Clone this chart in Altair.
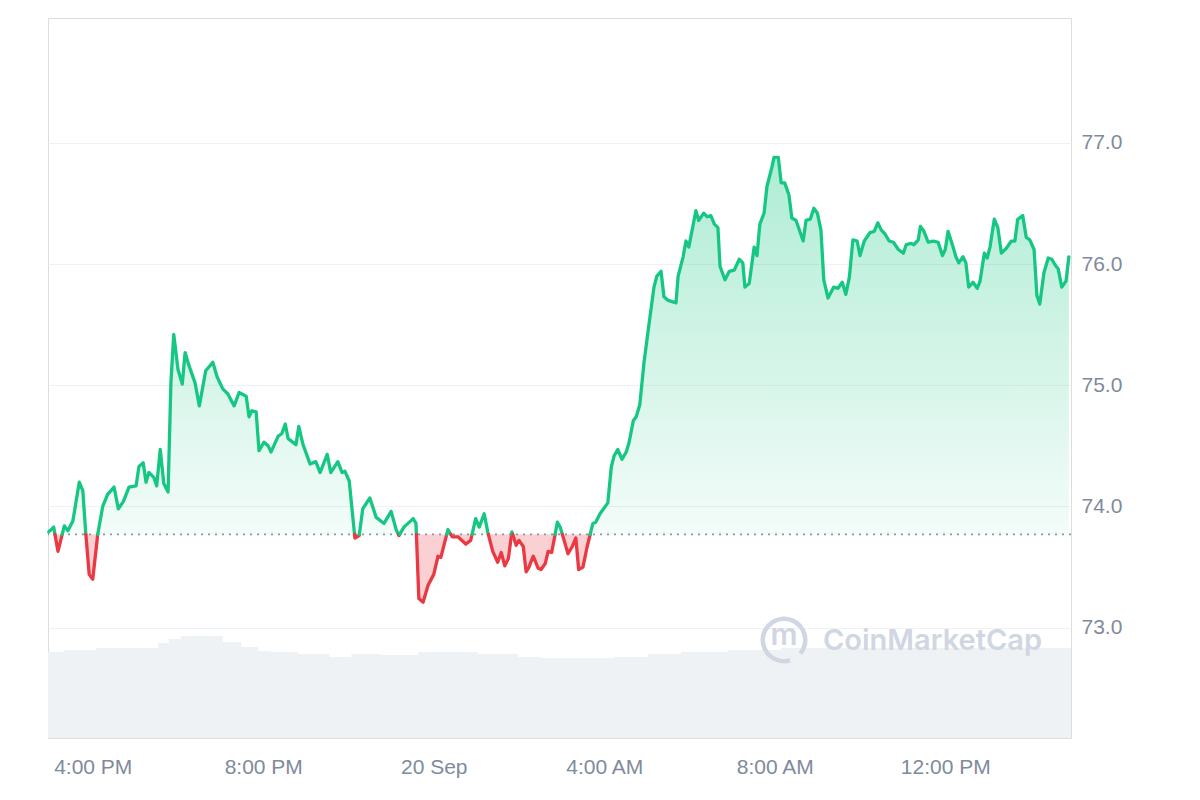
import altair as alt
import pandas as pd

# ---------------- data ----------------
START = pd.Timestamp("2024-09-19 14:57")
BASE_PRICE = 73.77  # previous close (dotted reference line)

price_minutes = [1, 8, 14, 23, 28, 35, 44, 49, 53, 58, 63, 70, 77, 84, 93, 99, 106, 114, 124, 128,
                 134, 138, 142, 149, 153, 158, 163, 169, 173, 177, 183, 189, 193, 198, 207, 213, 222, 232, 238, 246,
                 253, 262, 269, 279, 283, 287, 293, 297, 304, 310, 314, 324, 329, 334, 338, 349, 353, 359, 369, 377,
                 383, 393, 398, 408, 414, 418, 424, 432, 438, 443, 453, 462, 473, 483, 490, 494, 501, 514, 518, 522,
                 528, 535, 543, 549, 553, 563, 569, 577, 588, 595, 602, 607, 614, 619, 626, 633, 638, 643, 648, 653,
                 659, 663, 669, 673, 677, 683, 690, 694, 700, 704, 709, 717, 721, 732, 738, 743, 747, 753, 759, 767,
                 771, 777, 788, 793, 797, 802, 808, 814, 818, 824, 828, 833, 839, 845, 853, 857, 863, 867, 873, 884,
                 887, 894, 898, 902, 912, 916, 923, 928, 933, 938, 943, 946, 953, 959, 966, 973, 978, 981, 987, 994,
                 998, 1002, 1008, 1012, 1019, 1022, 1028, 1032, 1037, 1043, 1047, 1053, 1063, 1067, 1073, 1078, 1083,
                 1088, 1092, 1098, 1106, 1112, 1118, 1123, 1128, 1133, 1139, 1143, 1149, 1157, 1163, 1168, 1173, 1178,
                 1184, 1190, 1197, 1204, 1208, 1215, 1219, 1225, 1228, 1233, 1239, 1246, 1253, 1259, 1263, 1267, 1274,
                 1278, 1282, 1288, 1292, 1296, 1302, 1308, 1312, 1318, 1322, 1326, 1332, 1337, 1342, 1349, 1356, 1361,
                 1365, 1372, 1377, 1382, 1388, 1392, 1396, 1402, 1408, 1413, 1418, 1422, 1427, 1433, 1437]

price_values = [73.79, 73.83, 73.63, 73.84, 73.80, 73.88, 74.20, 74.13, 73.79, 73.44,
                73.40, 73.77, 74.00, 74.10, 74.16, 73.98, 74.04, 74.16, 74.17, 74.33,
                74.36, 74.20, 74.28, 74.24, 74.17, 74.47, 74.19, 74.12, 75.02, 75.42,
                75.13, 75.01, 75.27, 75.17, 75.02, 74.83, 75.12, 75.19, 75.07, 74.97,
                74.93, 74.83, 74.94, 74.91, 74.74, 74.79, 74.78, 74.46, 74.53, 74.50,
                74.45, 74.58, 74.60, 74.68, 74.56, 74.51, 74.66, 74.51, 74.35, 74.37,
                74.28, 74.43, 74.28, 74.37, 74.28, 74.29, 74.21, 73.74, 73.76, 73.98,
                74.07, 73.91, 73.86, 73.96, 73.81, 73.76, 73.83, 73.90, 73.86, 73.24,
                73.21, 73.35, 73.44, 73.59, 73.58, 73.81, 73.75, 73.75, 73.69, 73.72,
                73.90, 73.83, 73.94, 73.79, 73.63, 73.54, 73.62, 73.51, 73.57, 73.79,
                73.68, 73.72, 73.67, 73.46, 73.50, 73.59, 73.49, 73.48, 73.53, 73.63,
                73.62, 73.87, 73.83, 73.61, 73.67, 73.74, 73.48, 73.50, 73.67, 73.86,
                73.87, 73.94, 74.03, 74.33, 74.42, 74.47, 74.39, 74.45, 74.53, 74.71,
                74.74, 74.84, 75.19, 75.46, 75.81, 75.90, 75.94, 75.73, 75.70, 75.68,
                75.90, 76.06, 76.19, 76.14, 76.44, 76.36, 76.42, 76.39, 76.40, 76.33,
                76.30, 75.98, 75.87, 75.94, 75.95, 76.04, 76.01, 75.81, 75.84, 76.14,
                76.07, 76.33, 76.42, 76.64, 76.80, 76.88, 76.88, 76.67, 76.67, 76.57,
                76.38, 76.36, 76.19, 76.36, 76.37, 76.46, 76.42, 76.28, 75.87, 75.72,
                75.81, 75.80, 75.85, 75.75, 75.89, 76.20, 76.19, 76.07, 76.19, 76.26,
                76.27, 76.34, 76.28, 76.25, 76.19, 76.18, 76.12, 76.09, 76.16, 76.17,
                76.16, 76.20, 76.31, 76.27, 76.18, 76.19, 76.18, 76.07, 76.12, 76.27,
                76.14, 76.06, 76.01, 76.06, 76.01, 75.81, 75.85, 75.80, 75.86, 76.09,
                76.05, 76.14, 76.37, 76.30, 76.09, 76.13, 76.19, 76.19, 76.37, 76.40,
                76.22, 76.20, 76.12, 75.74, 75.67, 75.93, 76.05, 76.04, 75.99, 75.96,
                75.81, 75.86, 76.06]

volume_minutes = [0, 23, 68, 155, 170, 187, 246, 272, 296, 314, 352, 396, 427, 469, 521,
                  605, 662, 694, 797, 845, 891, 957, 1032, 1440]
volume_values = [86, 88, 90, 95, 99, 102, 96, 91, 87, 86, 84, 81, 84, 83, 86,
                 84, 81, 80, 81, 84, 86, 88, 90, 90]

y_ticks = [73, 74, 75, 76, 77]
x_ticks = [(19, 16), (19, 20), (20, 0), (20, 4), (20, 8), (20, 12)]

assert len(price_minutes) == len(price_values)
assert len(volume_minutes) == len(volume_values)

GREEN = "#16c784"
RED = "#ea3943"
LABEL = "#808a9d"
GRID = "#eff1f4"
WATERMARK = "#d0d6e2"
FONT = "Liberation Sans"

# ---------------- tables ----------------
def ts(m):
    return START + pd.Timedelta(minutes=float(m))

pts = list(zip(price_minutes, price_values))

def side(p):
    return "up" if p >= BASE_PRICE else "down"

seg_rows, all_rows = [], []
seg = 0
cur = side(pts[0][1])
seg_rows.append((pts[0][0], pts[0][1], seg, cur))
all_rows.append(pts[0])
for (t0, p0), (t1, p1) in zip(pts[:-1], pts[1:]):
    s1 = side(p1)
    if s1 != cur:
        tc = t0 + (BASE_PRICE - p0) / (p1 - p0) * (t1 - t0)
        seg_rows.append((tc, BASE_PRICE, seg, cur))
        all_rows.append((tc, BASE_PRICE))
        seg += 1
        cur = s1
        seg_rows.append((tc, BASE_PRICE, seg, cur))
    seg_rows.append((t1, p1, seg, cur))
    all_rows.append((t1, p1))

line_df = pd.DataFrame(seg_rows, columns=["m", "price", "seg", "dir"])
line_df["time"] = line_df["m"].map(ts)

area_df = pd.DataFrame(all_rows, columns=["m", "price"])
area_df["time"] = area_df["m"].map(ts)
area_df["base"] = BASE_PRICE
area_df["hi"] = area_df["price"].clip(lower=BASE_PRICE)
area_df["lo"] = area_df["price"].clip(upper=BASE_PRICE)

vol_df = pd.DataFrame({"m": volume_minutes, "vol": volume_values})
vol_df["time"] = vol_df["m"].map(ts)

x_scale = alt.Scale(domain=[alt.DateTime(year=2024, month=9, date=19, hours=14, minutes=57),
                            alt.DateTime(year=2024, month=9, date=20, hours=14, minutes=57)])
y_scale = alt.Scale(domain=[72.09, 78.03], zero=False, nice=False)

x_axis = alt.Axis(
    values=[alt.DateTime(year=2024, month=9, date=d, hours=h) for d, h in x_ticks],
    labelExpr="hours(datum.value) == 0 ? timeFormat(datum.value, '%-d %b') : timeFormat(datum.value, '%-I:%M %p')",
    grid=False, domain=False, ticks=False, labelPadding=18, labelFontSize=21,
    labelColor=LABEL, labelFont=FONT, title=None, labelOverlap=False, labelFlush=False,
)
y_axis = alt.Axis(
    orient="right", values=y_ticks, format=".1f", grid=True, gridColor=GRID, gridWidth=1.2,
    domain=False, ticks=False, labelPadding=10, labelFontSize=21, labelColor=LABEL,
    labelFont=FONT, title=None,
)

X = alt.X("time:T", scale=x_scale, axis=x_axis)

def Y(field):
    return alt.Y(field, type="quantitative", scale=y_scale, axis=y_axis)

# volume (own y scale)
volume = alt.Chart(vol_df).mark_area(interpolate="step-after", color="#eff2f5").encode(
    x=X,
    y=alt.Y("vol:Q", scale=alt.Scale(domain=[0, 720], nice=False), axis=None),
)

up_area = alt.Chart(area_df).mark_area(
    color=alt.Gradient(
        gradient="linear",
        stops=[alt.GradientStop(color="rgba(22,199,132,0.34)", offset=0),
               alt.GradientStop(color="rgba(22,199,132,0.05)", offset=1)],
        x1=1, x2=1, y1=0, y2=1,
    )
).encode(x=X, y=Y("hi"), y2="base:Q")

down_area = alt.Chart(area_df).mark_area(color=RED, opacity=0.24).encode(
    x=X, y=Y("lo"), y2="base:Q"
)

baseline = alt.Chart(pd.DataFrame({"b": [BASE_PRICE]})).mark_rule(
    color="#8c93a6", strokeDash=[2, 5], strokeWidth=1.8
).encode(y=Y("b"))

lines = alt.Chart(line_df).mark_line(strokeWidth=3.3, strokeJoin="round", strokeCap="round").encode(
    x=X,
    y=Y("price"),
    detail="seg:N",
    color=alt.Color("dir:N", scale=alt.Scale(domain=["up", "down"], range=[GREEN, RED]), legend=None),
)

one = pd.DataFrame({"a": [0]})
wm_ring = alt.Chart(one).mark_arc(
    radius=19, radius2=23.5, theta=2.85, theta2=8.55, color=WATERMARK
).encode(x=alt.value(736), y=alt.value(622))
wm_m = alt.Chart(one).mark_text(
    text="m", font="Inter", fontWeight=600, fontSize=30, color=WATERMARK, baseline="middle", align="center"
).encode(x=alt.value(736), y=alt.value(618))
wm_text = alt.Chart(one).mark_text(
    text="CoinMarketCap", font="Inter", fontWeight=600, fontSize=29, color=WATERMARK,
    baseline="middle", align="left"
).encode(x=alt.value(775), y=alt.value(623))

price_layer = alt.layer(up_area, down_area, baseline, lines, wm_ring, wm_m, wm_text)

chart = alt.layer(volume, price_layer).resolve_scale(y="independent").properties(
    width=1023, height=720,
    padding={"left": 39, "top": 10, "right": 5, "bottom": 5},
).configure_view(stroke="#e8eaed", strokeWidth=1.5).configure(background="white")

chart.save("out.html", embed_options={"renderer": "svg", "actions": False})
